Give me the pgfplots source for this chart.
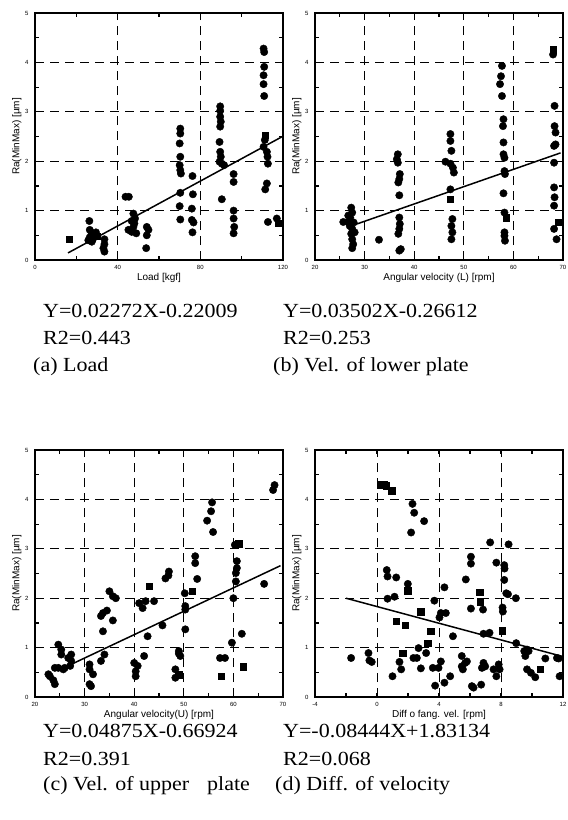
\documentclass[border=0pt]{standalone}
\usepackage{pgfplots}
\pgfplotsset{compat=1.18}
\usepackage{fontspec}
\setmainfont{Liberation Serif}[FakeStretch=1.1]
\setsansfont{Liberation Sans}
\pgfplotsset{
  panel/.style={
    scale only axis, width=248pt, height=247pt,
    ymin=0, ymax=5, ytick={0,1,2,3,4,5},
    minor tick num=1,
    grid=major,
    major grid style={dash pattern=on 9pt off 6pt, line width=0.9pt, black},
    axis line style={line width=1.8pt, black},
    tick style={line width=1.2pt, black},
    major tick length=4pt, minor tick length=4pt,
    tick align=inside,
    /pgf/number format/assume math mode=true,
    tick label style={font=\sffamily\fontsize{6pt}{7pt}\selectfont},
    xticklabel style={yshift=-2pt},
    yticklabel style={xshift=-3pt},
    every axis x label/.style={at={(axis description cs:0.5,-0.073)}, anchor=center, font=\sffamily\fontsize{10pt}{12pt}\selectfont},
    every axis y label/.style={at={(axis description cs:-0.073,0.5)}, rotate=90, anchor=center, font=\sffamily\fontsize{10pt}{12pt}\selectfont},
    ylabel={Ra(MinMax) [\textmu m]},
  },
  dots/.style={only marks, mark=*, mark size=3.7pt, black},
  sqs/.style={only marks, mark=square*, mark size=3.2pt, black},
  fit/.style={black, line width=1.5pt, no marks},
}
\begin{document}
\begin{tikzpicture}
\path[use as bounding box] (0,0) rectangle (568pt,-820pt);
% (a)
\begin{axis}[panel, at={(35pt,-260pt)}, anchor=south west,
  xmin=0, xmax=120, xtick={0,40,80,120}, xlabel={Load [kgf]}]
\addplot[dots] coordinates {
(26.3,0.79)(26.5,0.61)(27.5,0.54)(26.5,0.46)(28,0.42)(25.8,0.40)(29,0.50)(27.5,0.37)(29.5,0.56)
(33.6,0.42)(33.6,0.32)(33.1,0.24)(33.6,0.17)
(43.8,1.28)(45.4,1.28)
(45.2,0.61)(46.8,0.57)(47.6,0.94)(48.4,0.84)(48.1,0.74)(47.6,0.67)(49,0.54)(46.8,0.79)
(54.1,0.67)(54.1,0.50)(54.9,0.61)(53.8,0.24)
(70.3,2.66)(70.3,2.56)(70,2.36)(70.3,2.09)(70,1.92)(70.3,1.82)(70.6,1.75)(70.3,1.36)(70,1.09)(70.3,0.82)
(76.2,1.70)(76.4,1.33)(75.9,1.04)(75.9,0.81)(76.7,0.76)(76.2,0.56)
(89.6,3.11)(89.6,3.02)(89.6,2.90)(89.9,2.80)(89.6,2.70)(89.3,2.39)(89.6,2.19)(89.9,2.09)(89.3,1.99)(90.4,1.95)(91.5,1.92)(90.4,1.23)
(96.1,1.74)(96.1,1.58)(96.1,1.00)(96.1,0.84)(96.4,0.67)(96.1,0.54)
(110.6,4.28)(110.9,4.21)(110.9,3.91)(110.6,3.74)(110.6,3.56)(110.9,3.32)
(111.2,2.43)(110.6,2.29)(112.2,2.19)(112.5,2.09)(112.7,1.95)(112.2,1.55)(111.4,1.43)(112.7,0.77)(117,0.84)
};
\addplot[sqs] coordinates {(16.5,0.42)(111.4,2.53)(117.8,0.75)(30,0.48)};
\addplot[fit] coordinates {(16,0.144)(120,2.506)};
\end{axis}
% (b)
\begin{axis}[panel, at={(315pt,-260pt)}, anchor=south west,
  xmin=20, xmax=70, xtick={20,30,40,50,60,70}, xlabel={Angular velocity (L) [rpm]}]
\addplot[dots] coordinates {
(25.7,0.77)(26.7,0.77)(27.3,1.06)(27.5,0.96)(27.1,0.86)(27,0.69)(27.5,0.63)(27.3,0.53)(27.5,0.42)(27.7,0.32)(27.5,0.24)(28,0.56)(26.7,0.90)(27.8,0.76)
(32.9,0.41)
(36.7,2.14)(36.5,2.04)(36.7,1.97)(37.1,1.74)(37,1.64)(36.8,1.57)(37,1.31)(37,0.86)(37.1,0.73)(37,0.63)(36.8,0.53)(37.3,0.22)(37,0.19)
(47.3,2.55)(47.3,2.41)(47.5,2.21)(46.3,1.99)(47.3,1.95)(47.8,1.87)(48,1.77)(47.3,1.43)(47.7,0.83)(47.5,0.69)(47.7,0.56)(47.5,0.42)
(57.7,3.93)(57.5,3.72)(57.3,3.56)(57.7,3.32)(58,2.85)(57.9,2.71)(58,2.38)(58,2.14)(58.2,2.07)(58.2,1.80)(58.3,1.74)(58,1.35)(58.2,0.96)(58.2,0.56)(58.2,0.49)(58.3,0.39)
(68,4.16)(68.3,3.12)(68.3,2.71)(68.5,2.58)(68.5,2.34)(68.2,2.31)(68.2,1.97)(68.2,1.47)(68.3,1.27)(68.2,1.10)(68.2,0.63)(68.7,0.42)
};
\addplot[sqs] coordinates {(47.3,1.23)(58.5,0.86)(68,4.26)(69,0.77)};
\addplot[fit] coordinates {(28,0.714)(69.5,2.168)};
\end{axis}
% (c)
\begin{axis}[panel, at={(35pt,-697pt)}, anchor=south west,
  xmin=20, xmax=70, xtick={20,30,40,50,60,70}, xlabel={Angular velocity(U) [rpm]}]
\addplot[dots] coordinates {
(23,0.42)(23.7,0.34)(24,0.26)(22.7,0.46)(24,0.59)(24.7,0.59)(25.7,0.56)(26,0.59)(24.7,1.06)(25.3,0.96)(26.7,0.79)(27.3,0.86)(27.3,0.73)(27.1,0.63)(25.3,0.86)
(31,0.66)(31,0.56)(31.7,0.46)(31,0.26)(31.3,0.22)
(33.3,0.73)(34,0.86)(33.3,1.64)(33.7,1.70)(34.5,1.75)(33.7,1.33)(35.7,1.55)(35,2.14)(35.7,2.04)(36.3,2.00)
(40.3,0.52)(40.3,0.42)(40.7,0.63)(40,0.69)(42,0.83)(42.7,1.23)(41,1.90)(41.7,1.80)(42.3,1.94)(44,1.94)(45.7,1.45)(46.3,2.40)(47,2.54)(46.9,2.46)
(48.3,0.56)(48.3,0.39)(49,0.93)(49.3,0.83)(49,0.88)
(50.2,2.10)(50.3,1.77)(50.3,1.84)(50.3,1.37)
(52.3,2.85)(52.3,2.71)(52.7,2.39)
(54.7,3.57)(55.5,3.76)(55.7,3.94)(55.9,3.34)
(57.3,0.79)(58.3,0.79)
(59.7,1.10)(60,2.00)(60.3,3.08)(60.7,2.75)(60.7,2.61)(60.5,2.51)(60.5,2.34)(61.7,1.28)
(66.2,2.29)(68,4.19)(68.3,4.29)
};
\addplot[sqs] coordinates {(43,2.24)(51.7,2.14)(57.5,0.42)(61.1,3.10)(62,0.61)(49,0.45)};
\addplot[fit] coordinates {(26.5,0.623)(69.5,2.659)};
\end{axis}
% (d)
\begin{axis}[panel, at={(315pt,-697pt)}, anchor=south west,
  xmin=-4, xmax=12, xtick={-4,0,4,8,12}, xlabel={Diff o fang. vel. [rpm]}]
\addplot[dots] coordinates {
(-1.67,0.79)(-0.55,0.89)(-0.49,0.74)(-0.34,0.71)
(0.63,2.57)(0.68,2.44)(1.24,2.42)(0.68,1.99)(1.13,2.03)(1.99,2.29)
(1.0,0.42)(1.45,0.71)(1.56,0.56)
(2.29,3.91)(2.4,3.73)(2.2,3.33)(3.04,3.56)
(2.35,0.79)(2.57,0.79)(2.68,0.99)(2.83,0.58)(3.17,0.89)
(3.7,1.95)(3.6,0.59)(3.97,0.59)(3.75,0.23)(4.12,0.72)
(4.03,1.61)(4.12,1.70)(4.44,1.70)(4.35,2.22)(4.9,1.23)(4.35,0.29)(4.72,0.42)
(5.47,0.83)(5.47,0.62)(5.54,0.56)(5.69,0.69)(5.8,0.72)(5.73,2.38)(6.06,2.84)(6.06,2.70)(6.06,1.79)(6.12,0.22)(6.23,0.19)(6.84,1.77)
(6.72,0.25)(6.87,0.69)(6.77,0.59)(6.98,0.62)(7.3,3.13)(7.26,1.30)(6.87,1.28)(7.7,2.72)
(7.52,0.56)(7.7,0.42)(7.85,0.66)(7.91,0.56)
(8.1,1.81)(8.12,1.73)(8.21,2.37)(8.23,2.60)(8.21,2.67)(8.34,2.10)(8.49,3.09)(8.45,2.08)
(8.96,2.00)(8.98,1.09)(9.5,0.93)(9.57,0.83)(9.68,0.96)(9.78,0.93)(9.68,0.56)(9.93,0.49)(10.21,0.40)(10.86,0.78)(11.61,0.79)(11.72,0.78)(11.78,0.42)
};
\addplot[sqs] coordinates {(0.2,4.30)(0.46,4.30)(0.59,4.28)(0.95,4.18)(1.24,1.54)(1.81,1.45)(1.99,2.15)(1.67,0.89)(2.83,1.73)(3.28,1.09)(3.47,1.33)(6.66,1.93)(6.62,2.12)(8.06,1.34)(10.54,0.56)};
\addplot[fit] coordinates {(-2,2.0)(12,0.818)};
\end{axis}
% captions
\begin{scope}[every node/.style={anchor=base west, inner sep=0pt, font=\fontsize{20pt}{24pt}\selectfont}]
\node at (43pt,-317pt) {Y=0.02272X-0.22009};
\node at (43pt,-344pt) {R2=0.443};
\node at (33pt,-371pt) {(a) Load};
\node at (283pt,-317pt) {Y=0.03502X-0.26612};
\node at (283pt,-344pt) {R2=0.253};
\node at (273pt,-371pt) {(b) Vel. of lower plate};
\node at (43pt,-737pt) {Y=0.04875X-0.66924};
\node at (43pt,-765pt) {R2=0.391};
\node at (43pt,-790pt) {(c) Vel. of upper\hspace{18pt}plate};
\node at (283pt,-737pt) {Y=-0.08444X+1.83134};
\node at (283pt,-765pt) {R2=0.068};
\node at (275pt,-790pt) {(d) Diff. of velocity};
\end{scope}
\end{tikzpicture}
\end{document}
